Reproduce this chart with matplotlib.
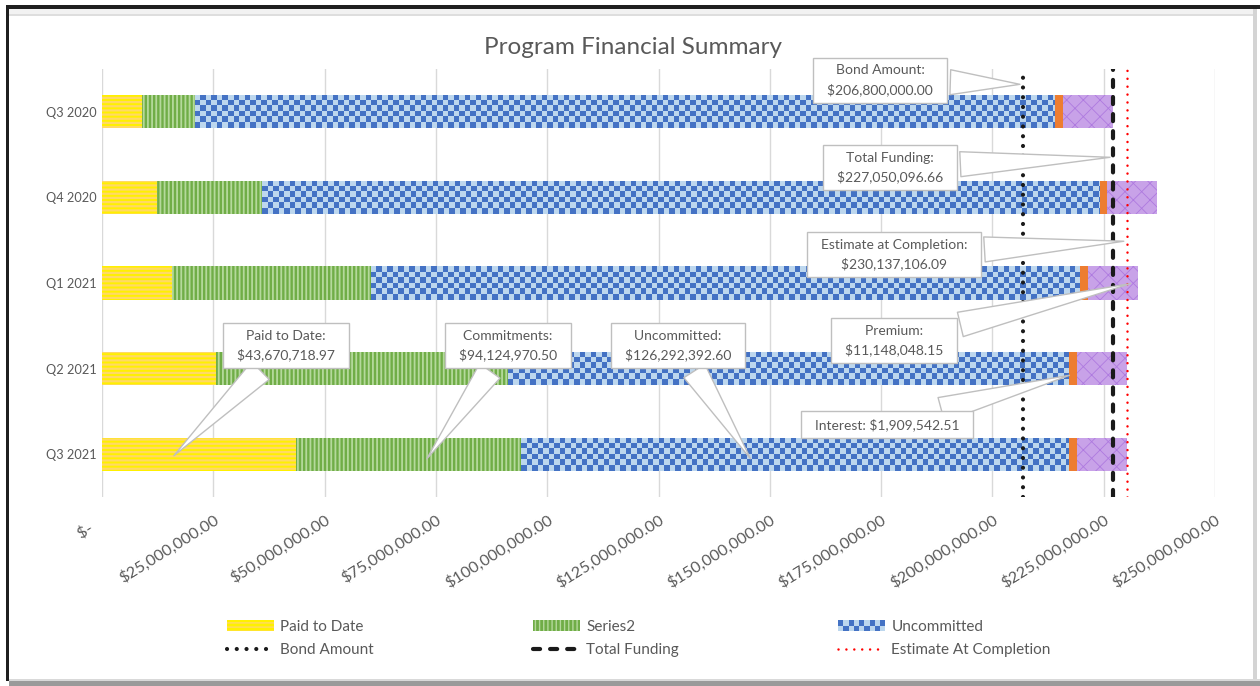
import numpy as np
import matplotlib
matplotlib.use('Agg')
import matplotlib.pyplot as plt
from matplotlib.colors import ListedColormap
from matplotlib.legend_handler import HandlerBase
from matplotlib.lines import Line2D
from matplotlib.patches import Patch, Rectangle
from matplotlib.ticker import FuncFormatter

plt.rcParams['font.family'] = ['Lato', 'DejaVu Sans']

# data
quarters = ['Q3 2020', 'Q4 2020', 'Q1 2021', 'Q2 2021', 'Q3 2021']
paid = [9.0e6, 12.4e6, 15.7e6, 25.6e6, 43670718.97]
series2 = [11.9e6, 23.5e6, 44.7e6, 65.6e6, 50454251.53]
uncommitted = [193.14e6, 188.04e6, 159.24e6, 125.94e6, 122.96e6]
interest = [1909542.51] * 5
premium = [11148048.15] * 5
bond_amount = 206800000.00
total_funding = 227050096.66
eac = 230137106.09
x_ticks = np.arange(0, 250e6 + 1, 25e6)

# callouts: text, point (x, y), box centre (x, y)
callouts = [
    ('Bond Amount:\n$206,800,000.00', (bond_amount, -0.32), (174.8e6, -0.37)),
    ('Total Funding:\n$227,050,096.66', (total_funding, 0.53), (177.0e6, 0.65)),
    ('Estimate at Completion:\n$230,137,106.09', (eac, 1.51), (177.9e6, 1.67)),
    ('Premium:\n$11,148,048.15', (231.6e6, 2.0), (177.9e6, 2.67)),
    ('Interest: $1,909,542.51', (217.9e6, 3.07), (176.3e6, 3.65)),
    ('Paid to Date:\n$43,670,718.97', (15.7e6, 4.04), (41.3e6, 2.73)),
    ('Commitments:\n$94,124,970.50', (72.6e6, 4.08), (91.2e6, 2.73)),
    ('Uncommitted:\n$126,292,392.60', (146.0e6, 4.08), (129.4e6, 2.73)),
]

GREY = '#595959'
BLUE_L, BLUE_D = '#BDD7EE', '#4472C4'
W, H = 1260, 686

fig = plt.figure(figsize=(W / 100, H / 100), dpi=100)
ax = fig.add_axes([102 / W, 1 - 497 / H, 1113 / W, 428 / H])

y = np.arange(len(quarters))
bh = 0.39
left = np.zeros(len(quarters))


def hbar(vals, **kw):
    global left
    lw = kw.pop('hlw', 1.0)
    with plt.rc_context({'hatch.linewidth': lw}):
        b = ax.barh(y, vals, height=bh, left=left, linewidth=0, zorder=2, **kw)
    for p in b.patches:
        if hasattr(p, 'set_hatch_linewidth'):
            p.set_hatch_linewidth(lw)
    left = left + np.array(vals)
    return b


hbar(paid, color='#FFF000', edgecolor='#FFD966', hatch='----', hlw=1.6)
hbar(series2, color='#70AD47', edgecolor='#B5D99C', hatch='||||', hlw=1.3)
unc = hbar(uncommitted, color=BLUE_L)
hbar(interest, color='#ED7D31')
hbar(premium, color='#C8A2E8', edgecolor='#AE7ADF', hatch='xx', hlw=0.6)

ax.set_xlim(0, 250e6)
ax.set_ylim(4.5, -0.5)

# checkerboard fill for the uncommitted bars
cell = 5.5
cmap = ListedColormap([BLUE_L, BLUE_D])
for p in unc.patches:
    x0, y0, w, h = p.get_x(), p.get_y(), p.get_width(), p.get_height()
    (a0, b0), (a1, b1) = ax.transData.transform([(x0, y0), (x0 + w, y0 + h)])
    wpx, hpx = abs(a1 - a0), abs(b1 - b0)
    nc, nr = int(np.ceil(wpx / cell)), int(np.ceil(hpx / cell))
    dx, dy = w / wpx * cell, h / hpx * cell
    grid = np.indices((nr, nc)).sum(axis=0) % 2
    im = ax.imshow(grid, cmap=cmap, extent=(x0, x0 + nc * dx, y0 + nr * dy, y0),
                   aspect='auto', interpolation='nearest', zorder=2.1)
    im.set_clip_path(p)

ax.set_xlim(0, 250e6)
ax.set_ylim(4.5, -0.5)

# vertical reference lines
ax.axvline(bond_amount, color='#1A1A1A', lw=3, linestyle=(0, (0.01, 2.33)),
           dash_capstyle='round', zorder=4)
ax.axvline(total_funding, color='#1A1A1A', lw=3, linestyle=(0, (1.7, 2.4)),
           dash_capstyle='round', zorder=4)
ax.axvline(eac, color='#FF0000', lw=1.8, linestyle=(0, (0.01, 3.15)),
           dash_capstyle='round', zorder=4)

ax.set_xticks(x_ticks)
ax.xaxis.set_major_formatter(FuncFormatter(
    lambda v, pos: '$-    ' if v == 0 else f'${v:,.2f}'))
ax.set_yticks(y)
ax.set_yticklabels(quarters)
ax.tick_params(axis='x', length=0, pad=11, labelsize=11.6, labelcolor=GREY)
ax.tick_params(axis='y', length=0, pad=4, labelsize=9.2, labelcolor=GREY)
for lab in ax.get_xticklabels():
    lab.set_rotation(32)
    lab.set_ha('right')
    lab.set_va('top')
    lab.set_rotation_mode('anchor')
for s in ax.spines.values():
    s.set_visible(False)
ax.set_axisbelow(True)
ax.xaxis.grid(True, color='#D9D9D9', lw=1)

for txt, pt, box in callouts:
    txt = '\n'.join('  ' + ln + '  ' for ln in txt.split('\n'))
    ax.annotate(txt, xy=pt, xytext=box, ha='center', va='center', fontsize=10,
                color=GREY, linespacing=1.6, zorder=10,
                bbox=dict(boxstyle='square,pad=0.5', fc='white', ec='#BFBFBF', lw=1),
                arrowprops=dict(arrowstyle='wedge,tail_width=1.8,shrink_factor=0.5',
                                fc='white', ec='#BFBFBF', lw=1))

fig.text(633 / W, 1 - 47 / H, 'Program Financial Summary', ha='center', va='center',
         fontsize=17.5, color=GREY)


class HandlerChecker(HandlerBase):
    def create_artists(self, legend, orig_handle, xdescent, ydescent, width,
                       height, fontsize, trans):
        x0, y0 = -xdescent, -ydescent
        arts = [Rectangle((x0, y0), width, height, fc=BLUE_L, ec='none',
                          transform=trans)]
        nr = 2
        c = height / nr
        nc = int(round(width / c))
        c_w = width / nc
        for i in range(nr):
            for j in range(nc):
                if (i + j) % 2:
                    arts.append(Rectangle((x0 + j * c_w, y0 + i * c), c_w, c,
                                          fc=BLUE_D, ec='none', transform=trans))
        return arts


# legend, three columns
h_paid = Patch(facecolor='#FFF000', edgecolor='#FFD966', hatch='----', linewidth=0)
h_s2 = Patch(facecolor='#70AD47', edgecolor='#B5D99C', hatch='||||', linewidth=0)
h_unc = Patch(facecolor=BLUE_L)
h_bond = Line2D([], [], color='#1A1A1A', lw=3, linestyle=(0, (0.01, 2.33)),
                dash_capstyle='round')
h_tot = Line2D([], [], color='#1A1A1A', lw=3, linestyle=(0, (1.7, 2.4)),
               dash_capstyle='round')
h_eac = Line2D([], [], color='#FF0000', lw=1.8, linestyle=(0, (0.01, 3.15)),
               dash_capstyle='round')
cols = [((h_paid, h_bond), ('Paid to Date', 'Bond Amount'), 227),
        ((h_s2, h_tot), ('Series2', 'Total Funding'), 533),
        ((h_unc, h_eac), ('Uncommitted', 'Estimate At Completion'), 838)]
for hs, ls, xp in cols:
    fig.legend(hs, ls, loc='upper left', bbox_to_anchor=(xp / W, 1 - 620 / H),
               frameon=False, borderpad=0, borderaxespad=0, handlelength=3.1,
               handletextpad=0.4, labelspacing=0.58, fontsize=11, labelcolor=GREY,
               handler_map={h_unc: HandlerChecker()})


# frame around the chart
def px_rect(x0, y0, x1, y1, color):
    fig.add_artist(Rectangle((x0 / W, 1 - y1 / H), (x1 - x0) / W, (y1 - y0) / H,
                             transform=fig.transFigure, facecolor=color,
                             edgecolor='none', zorder=5))


px_rect(9, 9, 1256, 15, '#F2F2F2')
px_rect(9, 14, 1256, 15.5, '#DEDEDE')
px_rect(5.5, 5.5, W, 8.5, '#1F1F1F')
px_rect(5.5, 5.5, 9, 681, '#1F1F1F')
px_rect(1253, 9, 1257, 680, '#D4D4D4')
px_rect(9, 678.5, W, 681, '#D9D9D9')
px_rect(9, 681, W, H, '#9A9A9A')

fig.savefig('out.png', dpi=100)
